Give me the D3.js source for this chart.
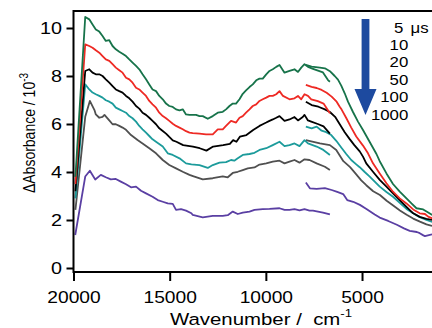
<!DOCTYPE html>
<html><head><meta charset="utf-8">
<script src="https://cdn.jsdelivr.net/npm/d3@7"></script>
<style>
html,body{margin:0;padding:0;background:#fff;}
svg text{font-family:"Liberation Sans",Arial,Helvetica,sans-serif;fill:#000;}
</style></head>
<body><svg id="chart" width="432" height="328"></svg>
<script>
// ---------- data ----------
const wavenumberTicks = [20000, 15000, 10000, 5000];
const absorbanceTicks = [0, 2, 4, 6, 8, 10];
const delayLabels = ["5", "10", "20", "50", "100", "1000"];

// visible-region spectra [wavenumber cm-1, ΔAbs x1e-3]
const vis5us = [[19900,3.8],[19390,10.46],[19180,10.36],[19010,10.15],[18840,9.94],[18660,9.85],[18490,9.67],[18320,9.46],[18140,9.49],[17970,9.25],[17800,9.11],[17620,9.01],[17450,8.93],[17270,8.83],[17100,8.69],[16930,8.56],[16750,8.42],[16580,8.28],[16410,8.07],[16230,7.86],[16060,7.65],[15890,7.44],[15710,7.37],[15540,7.17],[15360,7.03],[15190,6.85],[15020,6.75],[14840,6.71],[14670,6.61],[14490,6.57],[14320,6.61],[14150,6.40],[13970,6.38],[13800,6.38],[13630,6.38],[13450,6.33],[13280,6.33],[13020,6.22],[12760,6.33],[12500,6.47],[12240,6.51],[12070,6.61],[11890,6.75],[11720,6.85],[11550,6.85],[11370,7.03],[11200,7.26],[11030,7.40],[10850,7.54],[10680,7.65],[10500,7.82],[10330,7.89],[10160,7.89],[9980,8.07],[9810,8.21],[9640,8.28],[9460,8.38],[9290,8.46],[9030,8.14],[8770,8.21],[8510,8.28],[8330,8.17],[8160,8.35],[7990,8.49],[7810,8.38],[7550,8.30],[7030,8.15],[6770,7.83],[6670,7.76]];
const vis10us = [[19900,3.5],[19390,9.32],[19180,9.25],[19010,9.18],[18840,9.07],[18660,8.97],[18490,8.83],[18320,8.69],[18140,8.63],[17970,8.49],[17800,8.35],[17620,8.24],[17450,8.14],[17270,7.93],[17100,7.86],[16930,7.72],[16750,7.51],[16580,7.44],[16410,7.31],[16230,7.17],[16060,6.96],[15890,6.82],[15710,6.68],[15540,6.47],[15360,6.33],[15190,6.24],[15020,6.13],[14840,6.01],[14670,5.92],[14490,5.85],[14320,5.78],[14150,5.70],[13970,5.64],[13800,5.62],[13450,5.60],[13110,5.57],[12760,5.57],[12500,5.78],[12240,5.78],[12070,5.92],[11810,6.13],[11550,6.06],[11370,6.26],[11200,6.33],[11030,6.47],[10850,6.61],[10680,6.75],[10500,6.82],[10330,6.96],[10160,7.03],[9980,7.10],[9810,7.17],[9640,7.17],[9460,7.24],[9290,7.37],[9110,7.17],[8770,7.03],[8510,7.07],[8330,7.17],[8160,7.03],[7990,7.24],[7810,7.17],[7640,7.03],[7300,6.95],[7000,6.85],[6670,6.45]];
const vis20us = [[19900,3.2],[19390,8.21],[19180,8.28],[19010,8.14],[18840,8.07],[18660,8.07],[18490,8.00],[18320,7.86],[18140,7.72],[17970,7.58],[17800,7.44],[17620,7.37],[17450,7.31],[17270,7.17],[17100,7.07],[16930,6.93],[16750,6.75],[16580,6.64],[16410,6.47],[16230,6.38],[16060,6.26],[15890,6.13],[15710,5.99],[15540,5.82],[15360,5.71],[15190,5.60],[15020,5.46],[14840,5.32],[14650,5.26],[14300,5.12],[13790,5.06],[13440,4.99],[13090,4.89],[12740,5.06],[12220,5.12],[11870,5.17],[11700,5.33],[11530,5.26],[11350,5.47],[11010,5.54],[10660,5.75],[10330,5.92],[10160,5.99],[9980,6.06],[9810,6.13],[9640,6.19],[9460,6.26],[9290,6.33],[9030,6.13],[8770,6.19],[8510,6.29],[8330,6.15],[8080,6.29],[7990,6.38],[7810,6.15],[7640,6.10],[7300,6.0],[7000,5.9],[6670,5.6]];
const vis50us = [[19900,2.9],[19390,7.65],[19180,7.44],[19010,7.31],[18840,7.24],[18660,7.17],[18490,7.10],[18320,6.99],[18140,6.93],[17970,6.85],[17800,6.68],[17620,6.61],[17450,6.54],[17270,6.47],[17100,6.33],[16930,6.24],[16750,6.10],[16580,5.92],[16410,5.78],[16230,5.64],[16060,5.50],[15890,5.36],[15710,5.26],[15360,5.06],[15100,4.78],[14840,4.71],[14490,4.57],[14150,4.36],[13870,4.32],[13450,4.29],[13020,4.17],[12760,4.29],[12410,4.39],[12070,4.41],[11810,4.50],[11640,4.47],[11460,4.57],[11200,4.71],[10850,4.75],[10590,4.80],[10330,4.92],[9980,4.99],[9640,5.12],[9290,5.26],[9030,5.08],[8770,5.12],[8510,5.19],[8250,5.08],[7990,5.33],[7810,5.19],[7360,5.06],[7010,4.92],[6670,4.71]];
const vis100us = [[19900,2.42],[19390,6.3],[19150,6.96],[18910,6.58],[18840,6.40],[18660,6.26],[18490,6.30],[18390,6.38],[18140,6.15],[17970,5.99],[17800,5.99],[17620,5.92],[17450,5.85],[17270,5.76],[17010,5.54],[16670,5.33],[16410,5.19],[16060,4.99],[15710,4.78],[15360,4.50],[15020,4.29],[14670,4.15],[14320,4.01],[13970,3.88],[13790,3.83],[13280,3.69],[12760,3.74],[12240,3.82],[11980,3.78],[11720,3.96],[11460,4.01],[11200,4.08],[10940,4.15],[10590,4.19],[10330,4.31],[9980,4.36],[9640,4.43],[9290,4.47],[9030,4.36],[8770,4.43],[8510,4.50],[8250,4.39],[7990,4.53],[7730,4.50],[7360,4.36],[6930,4.22],[6670,4.08]];
const vis1000us = [[19910,1.375],[19390,3.81],[19150,4.05],[18870,3.69],[18580,3.88],[18320,3.78],[18060,3.69],[17800,3.71],[17540,3.60],[17270,3.49],[17010,3.36],[16750,3.39],[16490,3.22],[16230,3.11],[15890,2.97],[15620,2.83],[15360,2.76],[15100,2.69],[14840,2.67],[14670,2.42],[14410,2.45],[14150,2.39],[13870,2.28],[13800,2.21],[13280,2.11],[12760,2.17],[12240,2.17],[11980,2.20],[11720,2.35],[11460,2.25],[11200,2.31],[10850,2.35],[10590,2.42],[10160,2.45],[9810,2.46],[9290,2.49],[9030,2.42],[8770,2.42],[8510,2.45],[8250,2.40],[7990,2.45],[7730,2.39],[7550,2.39],[7030,2.31],[6670,2.23]];

// near-IR spectra
const nir5us = [[7920,8.46],[7620,8.39],[7190,8.35],[6930,8.32],[6670,8.20],[6420,8.00],[6250,7.85],[6080,7.60],[5900,7.28],[5730,6.93],[5470,6.50],[5210,6.10],[4950,5.75],[4600,5.25],[4250,4.75],[4080,4.45],[3730,3.94],[3390,3.50],[3040,3.18],[2690,2.90],[2430,2.69],[2170,2.49],[1820,2.44],[1560,2.31],[1350,2.21]];
const nir10us = [[7920,7.63],[7620,7.55],[7360,7.50],[7100,7.42],[6840,7.30],[6580,7.14],[6320,6.93],[6160,6.72],[6060,6.60],[5820,6.25],[5560,5.85],[5300,5.48],[4950,5.10],[4690,4.78],[4430,4.36],[4080,3.94],[3730,3.53],[3390,3.18],[3040,2.90],[2690,2.69],[2340,2.44],[2000,2.28],[1730,2.25],[1560,2.14],[1350,2.07]];
const nir20us = [[7920,6.93],[7620,6.79],[7270,6.72],[6930,6.61],[6670,6.50],[6400,6.30],[6150,5.98],[5900,5.66],[5650,5.38],[5400,5.12],[5120,4.86],[4950,4.64],[4780,4.36],[4430,4.01],[4080,3.67],[3730,3.39],[3390,3.11],[3040,2.83],[2690,2.55],[2340,2.28],[2000,2.13],[1650,2.05],[1350,2.00]];
const nir50us = [[7920,5.89],[7620,5.82],[7360,5.89],[7100,5.72],[6860,5.66],[6600,5.54],[6340,5.30],[6080,5.02],[5820,4.75],[5560,4.50],[5300,4.32],[5120,4.20],[4860,4.00],[4600,3.81],[4340,3.60],[4080,3.39],[3730,3.17],[3390,2.97],[3040,2.72],[2690,2.46],[2340,2.28],[2000,2.12],[1650,2.00],[1350,1.92]];
const nir100us = [[7920,5.33],[7190,5.19],[6670,5.12],[6340,4.92],[5970,4.45],[5620,4.20],[5300,3.90],[5040,3.65],[4780,3.45],[4420,3.20],[4070,3.04],[3720,2.80],[3380,2.60],[3030,2.40],[2680,2.22],[2340,2.06],[1990,1.93],[1650,1.82],[1360,1.75]];
const nir1000us = [[7920,3.56],[7710,3.32],[7360,3.30],[6930,3.33],[6580,3.25],[6290,3.17],[5980,3.08],[5770,2.83],[5460,2.76],[5110,2.63],[4770,2.46],[4340,2.23],[4080,2.10],[3640,1.96],[3190,1.80],[2820,1.65],[2520,1.55],[2150,1.50],[2000,1.45],[1810,1.36],[1730,1.33],[1360,1.40]];

// ---------- styles ----------
const seriesColors = ["#17734a", "#ee2a24", "#000000", "#1c9b9b", "#505050", "#5a3fa3"];
const visSeries = [vis5us, vis10us, vis20us, vis50us, vis100us, vis1000us];
const nirSeries = [nir5us, nir10us, nir20us, nir50us, nir100us, nir1000us];

const svg = d3.select("#chart");
const x = d3.scaleLinear().domain([20000, 0]).range([73.5, 458.2]);
const y = d3.scaleLinear().domain([0, 10]).range([268, 28]);
const pL = 73.5, pR = 432, pT = 11, pB = 272;
const SX = 1.2;

svg.append("defs").append("clipPath").attr("id", "clip")
  .append("rect").attr("x", pL).attr("y", pT).attr("width", pR - pL).attr("height", pB - pT);

const line = d3.line().x(d => x(d[0])).y(d => y(d[1]));
const plot = svg.append("g").attr("clip-path", "url(#clip)");
for (let i = 5; i >= 0; i--) {
  [visSeries[i], nirSeries[i]].forEach(s => {
    plot.append("path").datum(s).attr("d", line)
      .attr("fill", "none").attr("stroke", seriesColors[i])
      .attr("stroke-width", 1.8).attr("stroke-linejoin", "round");
  });
}

// frame top line
svg.append("line").attr("x1", pL).attr("x2", pR + 2).attr("y1", pT).attr("y2", pT)
  .attr("stroke", "#000").attr("stroke-width", 2);

// x axis
const xAxis = svg.append("g").attr("transform", `translate(0,${pB})`)
  .call(d3.axisBottom(x).tickValues(wavenumberTicks).tickSize(9).tickSizeOuter(0).tickFormat(d3.format("d")));
xAxis.select(".domain").attr("d", `M${pL},0H${pR + 2}`).attr("stroke-width", 2);
xAxis.selectAll(".tick line").attr("stroke-width", 2);
xAxis.selectAll(".tick text").attr("y", 0).attr("dy", 0)
  .attr("transform", `translate(0,31) scale(${SX},1)`)
  .style("font-size", "16px").style("font-family", "Liberation Sans, Arial, sans-serif");

// y axis
const yAxis = svg.append("g").attr("transform", `translate(${pL},0)`)
  .call(d3.axisLeft(y).tickValues(absorbanceTicks).tickSize(7).tickSizeOuter(0));
yAxis.select(".domain").attr("d", `M0,${pT - 1}V${pB + 1}`).attr("stroke-width", 2);
yAxis.selectAll(".tick line").attr("stroke-width", 2);
yAxis.selectAll(".tick text").attr("x", -11.5 / SX).attr("dy", "0.33em")
  .attr("transform", `scale(${SX},1)`)
  .style("font-size", "16.5px").style("font-family", "Liberation Sans, Arial, sans-serif");

// axis titles
const xt = svg.append("text").attr("transform", `translate(170,325) scale(${SX},1)`).style("font-size", "17px");
xt.append("tspan").text("Wavenumber /\u00a0\u00a0cm");
xt.append("tspan").attr("dy", -8).style("font-size", "11px").text("-1");

const yt = svg.append("text").attr("transform", `translate(35,133) scale(${SX},1) rotate(-90)`)
  .attr("text-anchor", "middle").style("font-size", "14px");
yt.append("tspan").text("ΔAbsorbance / 10");
yt.append("tspan").attr("dy", -6).style("font-size", "10px").text("-3");

// legend arrow
const ax = 365.5;
svg.append("path")
  .attr("d", `M${ax - 3.9},19 H${ax + 3.9} V89 H${ax + 11} L${ax},115 L${ax - 11},89 H${ax - 3.9} Z`)
  .attr("fill", "#1d4a9f");

// legend labels
delayLabels.forEach((lab, i) => {
  const by = 32.5 + i * 17.4;
  const endX = i === 0 ? 403.3 : 408.3;
  svg.append("text").attr("transform", `translate(${endX},${by}) scale(${SX},1)`)
    .attr("text-anchor", "end").style("font-size", "14px").text(lab);
});
svg.append("text").attr("transform", `translate(410.5,32.5) scale(${SX},1)`)
  .style("font-size", "14px").text("μs");
</script></body></html>
